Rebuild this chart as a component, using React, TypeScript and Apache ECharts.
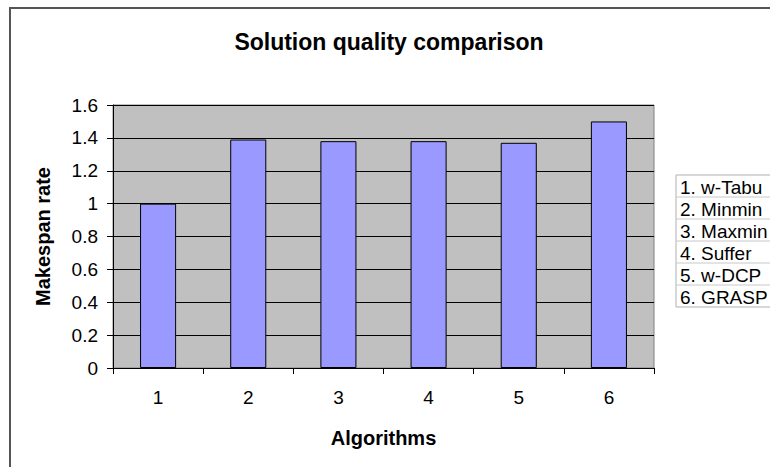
import React, { useEffect, useRef } from "react";
import * as echarts from "echarts";

const categories = ["1", "2", "3", "4", "5", "6"];
const values = [1.0, 1.39, 1.38, 1.38, 1.37, 1.5];
const legendNames = ["1. w-Tabu", "2. Minmin", "3. Maxmin", "4. Suffer", "5. w-DCP", "6. GRASP"];
const yTicks = { min: 0, max: 1.6, interval: 0.2 };

const FONT = "'Liberation Sans', Arial, sans-serif";

export default function App() {
  const ref = useRef<HTMLDivElement>(null);
  useEffect(() => {
    if (!ref.current) return;
    const chart = echarts.init(ref.current, null, { renderer: "svg" });
    const legTop = 175;
    const rowH = 22;
    const legLeft = 676;
    const legendGraphics: any[] = [
      {
        type: "rect",
        shape: { x: legLeft, y: legTop, width: 120, height: rowH * legendNames.length },
        style: { fill: "#fff", stroke: "#b0b0b0", lineWidth: 1 },
      },
    ];
    legendNames.forEach((name, i) => {
      if (i > 0) {
        legendGraphics.push({
          type: "line",
          shape: { x1: legLeft, y1: legTop + rowH * i, x2: 800, y2: legTop + rowH * i },
          style: { stroke: "#c8c8c8", lineWidth: 1 },
        });
      }
      legendGraphics.push({
        type: "text",
        x: legLeft + 4,
        y: legTop + rowH * i + rowH / 2 + 1,
        style: {
          text: name,
          font: `19px ${FONT}`,
          fill: "#000",
          textVerticalAlign: "middle",
          textAlign: "left",
        },
      });
    });
    chart.setOption({
      animation: false,
      backgroundColor: "#fff",
      title: {
        text: "Solution quality comparison",
        left: 384,
        textAlign: "center",
        top: 25,
        textStyle: { fontFamily: FONT, fontSize: 23, fontWeight: "bold", color: "#000" },
      },
      grid: {
        left: 113,
        right: 116,
        top: 105,
        bottom: 99,
        show: true,
        backgroundColor: "#C0C0C0",
        borderColor: "#808080",
        borderWidth: 1,
      },
      xAxis: {
        type: "category",
        data: categories,
        name: "Algorithms",
        nameLocation: "middle",
        nameGap: 60,
        nameTextStyle: { fontFamily: FONT, fontSize: 20, fontWeight: "bold", color: "#000" },
        axisLine: { lineStyle: { color: "#000", width: 1 } },
        axisTick: { show: true, length: 6, lineStyle: { color: "#000" } },
        axisLabel: { fontFamily: FONT, fontSize: 19, color: "#000", margin: 20 },
        splitLine: { show: false },
      },
      yAxis: {
        type: "value",
        min: yTicks.min,
        max: yTicks.max,
        interval: yTicks.interval,
        name: "Makespan rate",
        nameLocation: "middle",
        nameGap: 60,
        nameRotate: 90,
        nameTextStyle: { fontFamily: FONT, fontSize: 20, fontWeight: "bold", color: "#000" },
        axisLine: { show: true, lineStyle: { color: "#000", width: 1 } },
        axisTick: { show: true, length: 6, lineStyle: { color: "#000" } },
        axisLabel: { fontFamily: FONT, fontSize: 19, color: "#000", margin: 15 },
        splitLine: { show: true, lineStyle: { color: "#000", width: 1 } },
      },
      series: [
        {
          type: "bar",
          data: values,
          barWidth: "40%",
          itemStyle: { color: "#9999FF", borderColor: "#000", borderWidth: 1 },
        },
      ],
      graphic: [
        {
          type: "rect",
          shape: { x: 10, y: 8, width: 800, height: 500 },
          style: { fill: "none", stroke: "#555", lineWidth: 2 },
          silent: true,
          z: 100,
        },
        ...legendGraphics,
      ],
    });
    return () => chart.dispose();
  }, []);
  return (
    <div
      ref={ref}
      style={{ position: "absolute", left: 0, top: 0, width: 770, height: 467 }}
    />
  );
}
